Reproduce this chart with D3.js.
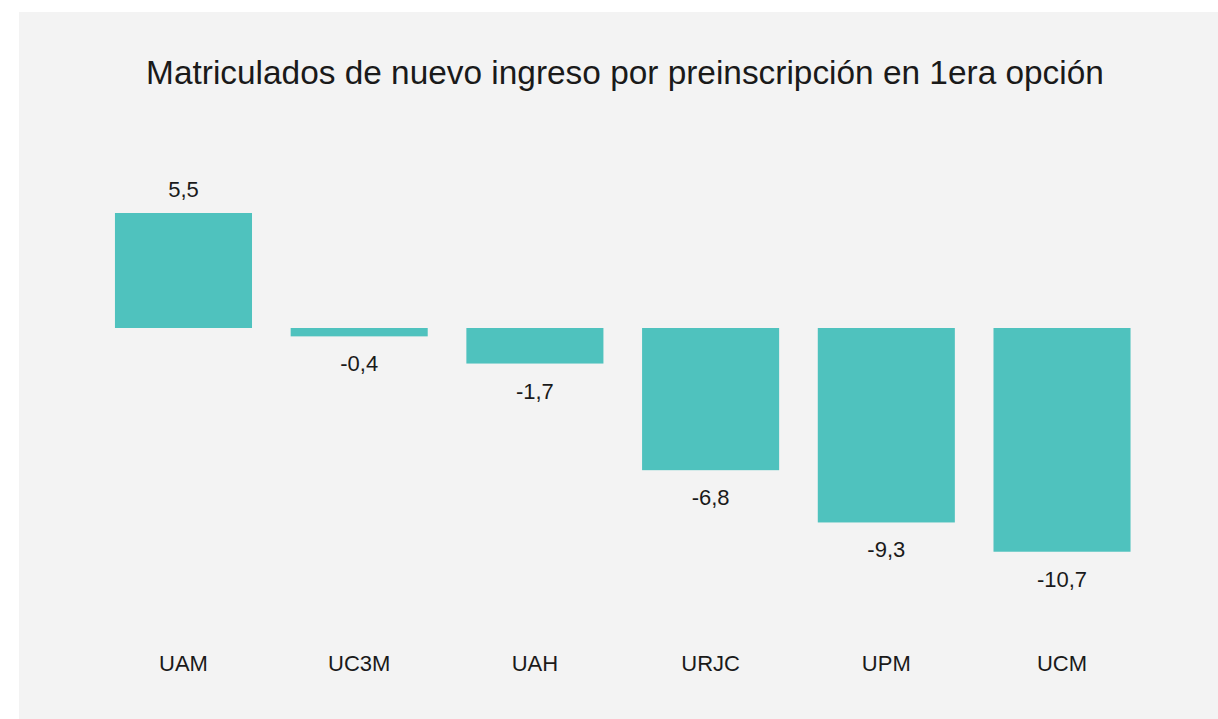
<!DOCTYPE html>
<html><head><meta charset="utf-8">
<script src="https://cdn.jsdelivr.net/npm/d3@7"></script>
<style>html,body{margin:0;padding:0;background:#fff;}svg{display:block;}</style>
</head><body>
<script>
const categories = ["UAM","UC3M","UAH","URJC","UPM","UCM"];
const values = [5.5,-0.4,-1.7,-6.8,-9.3,-10.7];
const title = "Matriculados de nuevo ingreso por preinscripción en 1era opción";

const W = 1218, H = 719;
const svg = d3.select("body").append("svg").attr("width", W).attr("height", H);
const font = "'Liberation Sans', Arial, sans-serif";
svg.append("rect").attr("x",19).attr("y",12).attr("width",W-19).attr("height",H-12).attr("fill","#f3f3f3");

svg.append("text").attr("x",625).attr("y",84).attr("text-anchor","middle")
  .attr("font-family",font).attr("font-size",33.4).attr("fill","#1a1a1a").text(title);

const x = d3.scaleBand().domain(categories).range([76.3,1169.2]).paddingInner(0.22).paddingOuter(0.22);
const y = d3.scaleLinear().domain([0,5.5]).range([328,213]);

svg.selectAll("rect.bar").data(values).enter().append("rect").attr("class","bar")
  .attr("x",(d,i)=>x(categories[i])).attr("width",x.bandwidth())
  .attr("y",d=>Math.min(y(d),y(0))).attr("height",d=>Math.abs(y(d)-y(0)))
  .attr("fill","#4fc2be");

const fmt = d => d3.format(".1f")(d).replace(".",",").replace("−","-");
svg.selectAll("text.val").data(values).enter().append("text").attr("class","val")
  .attr("x",(d,i)=>x(categories[i])+x.bandwidth()/2)
  .attr("y",d=> d>=0 ? y(d)-16 : y(d)+35)
  .attr("text-anchor","middle").attr("font-family",font).attr("font-size",22).attr("fill","#1a1a1a")
  .text(fmt);

const xa = svg.append("g").attr("transform","translate(0,671)")
  .call(d3.axisBottom(x).tickSize(0).tickPadding(0));
xa.select(".domain").remove();
xa.selectAll("text").attr("font-family",font).attr("font-size",22).attr("fill","#1a1a1a").attr("dy",0);
</script>
</body></html>
